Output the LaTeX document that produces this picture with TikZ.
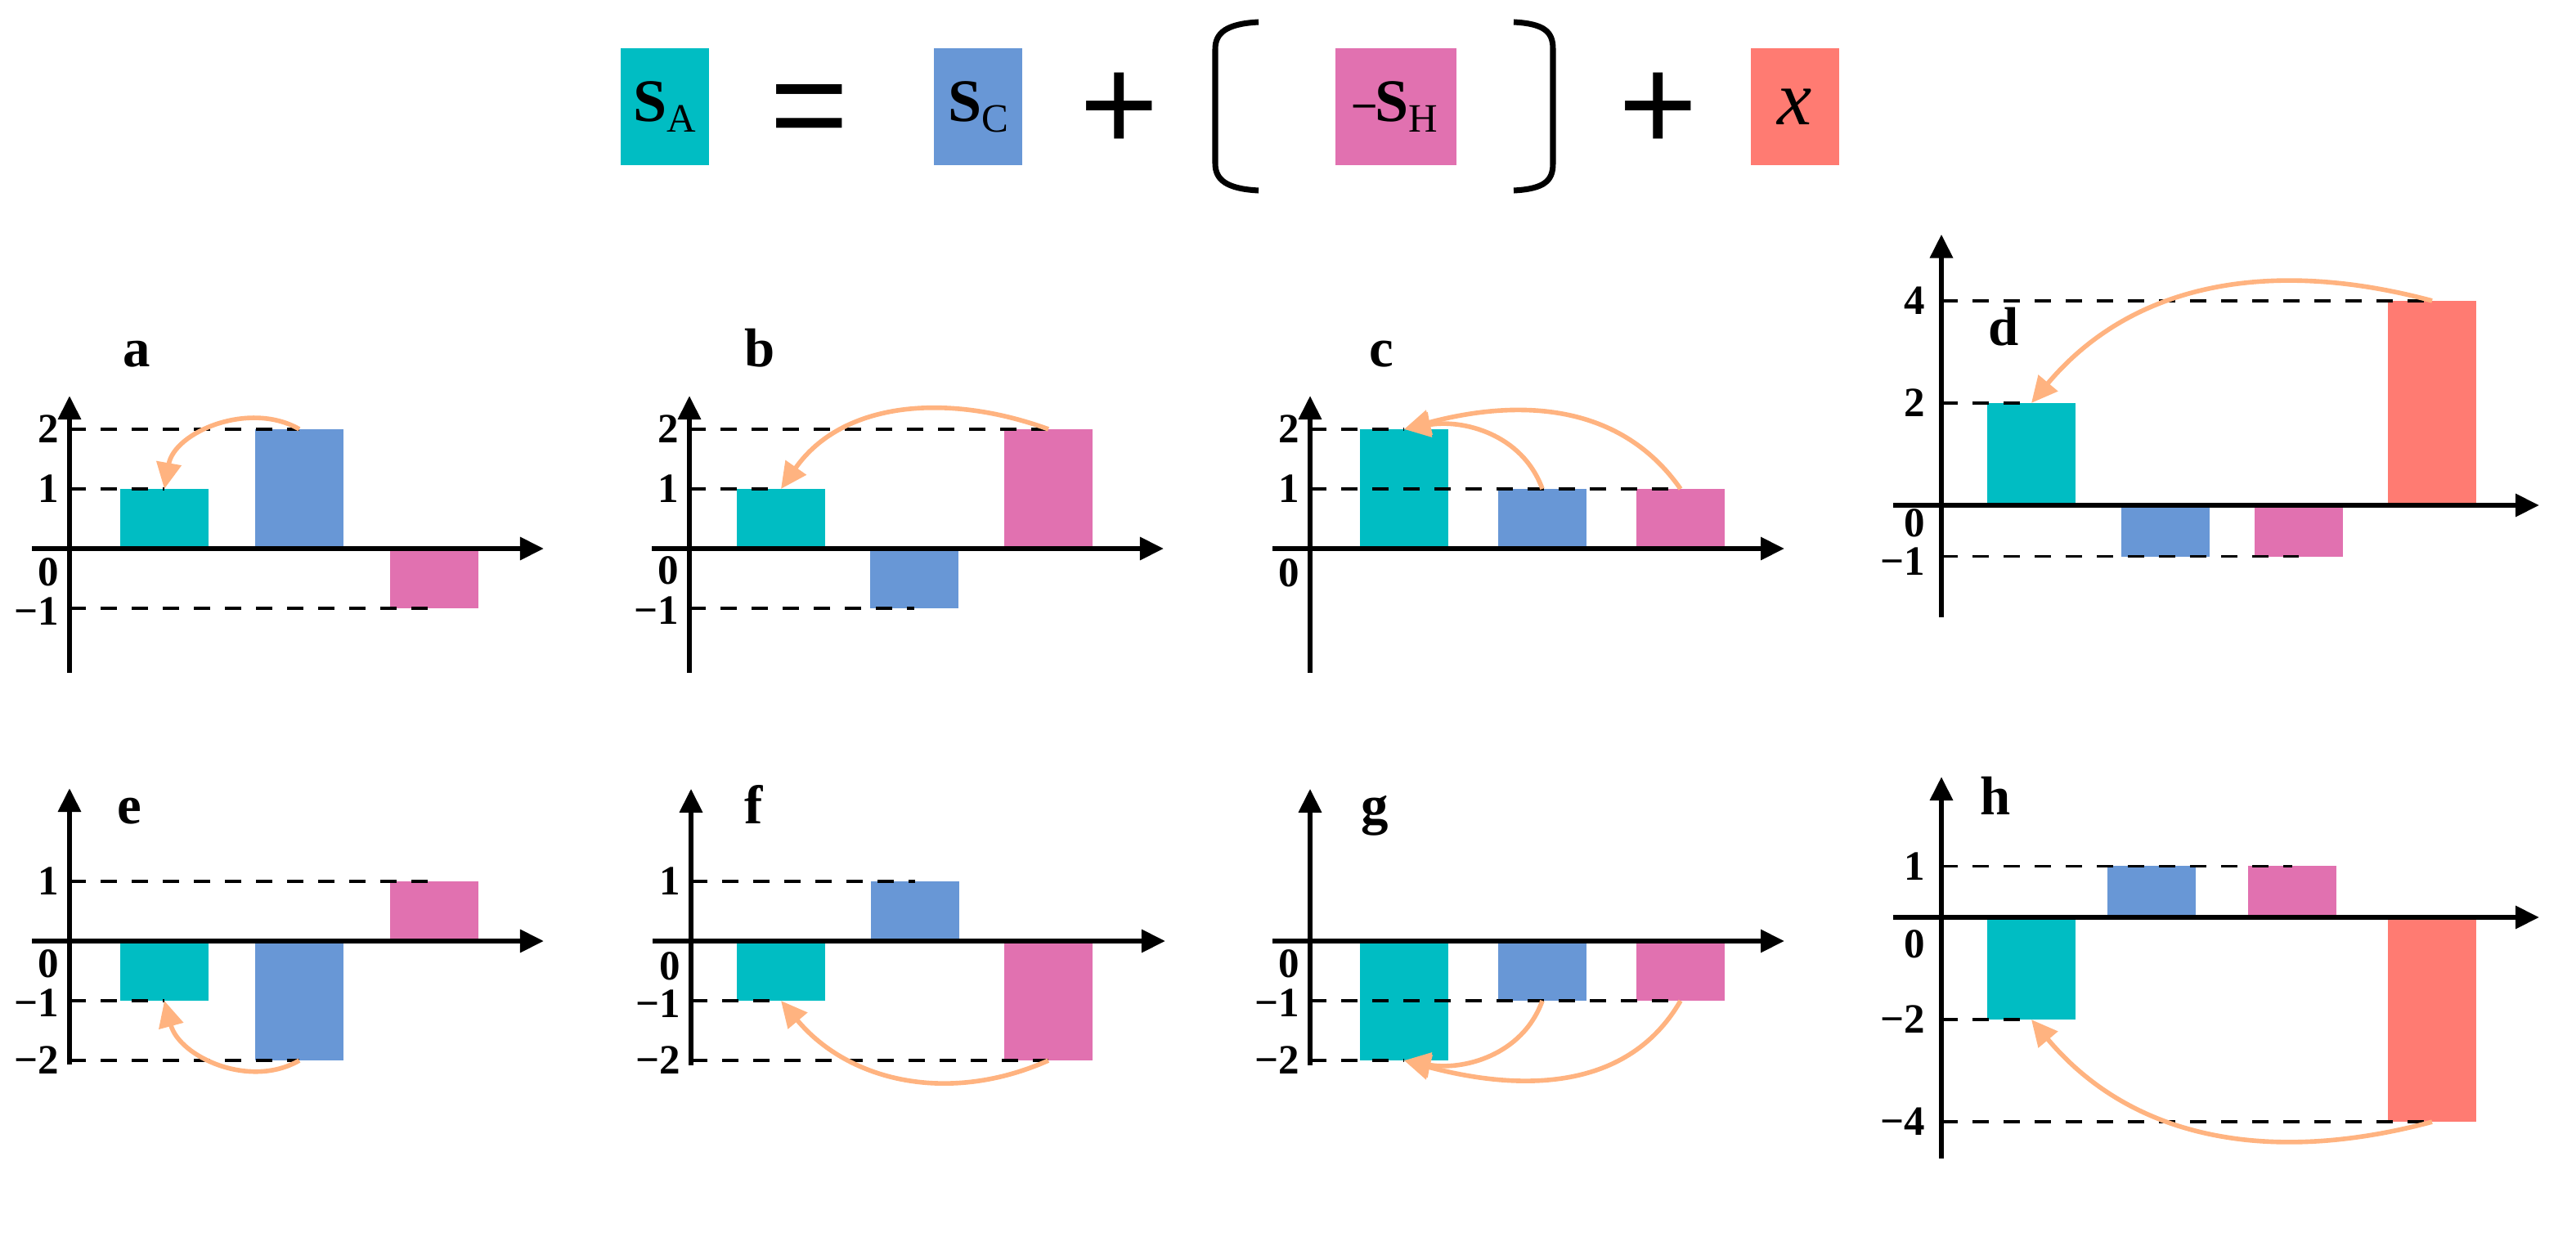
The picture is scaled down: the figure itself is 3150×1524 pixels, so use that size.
\documentclass[tikz,border=0pt]{standalone}
\usepackage{fontspec}
\setmainfont{Liberation Serif}
\newfontfamily\opfont{Liberation Sans}
\usetikzlibrary{arrows.meta}
\definecolor{tealA}{RGB}{0,189,195}
\definecolor{blueC}{RGB}{104,151,214}
\definecolor{pinkH}{RGB}{225,113,176}
\definecolor{redX}{RGB}{255,123,114}
\definecolor{peach}{RGB}{255,179,128}
\newcommand{\entsym}[2]{{\bfseries\fontsize{21}{21}\selectfont #1}\raisebox{-3.7pt}{\fontsize{14}{14}\selectfont #2}}
\tikzset{
    term/.style={inner sep=0pt, minimum width=1.07cm, minimum height=1.43cm},
    op/.style={anchor=base, inner sep=0pt, font=\opfont\fontsize{47}{47}\selectfont},
    brack/.style={line width=2pt},
    axisline/.style={line width=1.8pt, -{Triangle[length=0.29cm,width=0.27cm]}},
    guide/.style={line width=1.1pt, dash pattern=on 0.2cm off 0.18cm},
    flow/.style={draw=peach, line width=1.6pt, -{Triangle[length=0.32cm,width=0.3cm]}},
    bar/.style={inner sep=0pt, outer sep=0pt, minimum width=1.07cm},
    barA/.style={bar, fill=tealA},
    barC/.style={bar, fill=blueC},
    barH/.style={bar, fill=pinkH},
    barX/.style={bar, fill=redX},
    ticklbl/.style={anchor=east, inner sep=0pt, font=\fontsize{14.5}{14.5}\selectfont\bfseries},
    plabel/.style={anchor=base, inner sep=0pt, font=\fontsize{19}{19}\selectfont\bfseries}
}

\begin{document}
\begin{tikzpicture}[x=0.01cm, y=-0.01cm]
  \useasboundingbox (0,0) rectangle (3150,1524);

  % balance equation
  \node[term, fill=tealA] (SA) at (813,130.5) {\entsym{S}{A}};
  \node[op] (eq) at (990,184.5) {=};
  \node[term, fill=blueC] (SC) at (1196,130.5) {\entsym{S}{C}};
  \node[op] (plus1) at (1369,184.5) {+};
  \node[term, fill=pinkH, minimum width=1.48cm] (SH) at (1707,130.5)
    {\raisebox{1.7pt}{\fontsize{15}{15}\selectfont\bfseries –}\entsym{S}{H}};
  \node[op] (plus2) at (2028,184.5) {+};
  \node[term, fill=redX] (SX) at (2195,130.5) {\fontsize{27}{27}\selectfont\itshape x};
  \draw[brack] (1539,27) .. controls (1500,29) and (1486,40) .. (1486,60) -- (1486,200)
    .. controls (1486,220) and (1500,231) .. (1539,233);
  \draw[brack] (1851,27) .. controls (1890,29) and (1899,40) .. (1899,60) -- (1899,200)
    .. controls (1899,220) and (1890,231) .. (1851,233);

  % a
  \begin{scope}[shift={(85,671)}, y=0.73cm]
    \coordinate (aO) at (0,0);
    \node[barA, minimum height=0.73cm, anchor=south] (aA) at (116,0) {};
    \node[barC, minimum height=1.46cm, anchor=south] (aC) at (281,0) {};
    \node[barH, minimum height=0.73cm, anchor=north] (aH) at (446,0) {};
    \draw[axisline] (-46,0) -- (580,0);
    \draw[axisline] (0,-2.08) -- (0,2.56);
    \node[ticklbl] (a2) at (-12,2) {2};
    \node[ticklbl] (a1) at (-12,1) {1};
    \node[ticklbl, anchor=north east] (a0) at (-12,-0.15) {0};
    \node[ticklbl] (am1) at (-12,-1.05) {−1};
    \draw[guide] (aO |- aC.north) -- (aC.north);
    \draw[guide] (aO |- aA.north) -- (aA.north);
    \draw[guide] (aO |- aH.south) -- (aH.south);
    \node[plabel] (aL) at (82,3.05) {a};
    \draw[flow] (aC.north) to[out=150, in=80] (aA.north);
  \end{scope}

  % b
  \begin{scope}[shift={(843,671)}, y=0.73cm]
    \coordinate (bO) at (0,0);
    \node[barA, minimum height=0.73cm, anchor=south] (bA) at (112,0) {};
    \node[barC, minimum height=0.73cm, anchor=north] (bC) at (275,0) {};
    \node[barH, minimum height=1.46cm, anchor=south] (bH) at (439,0) {};
    \draw[axisline] (-46,0) -- (580,0);
    \draw[axisline] (0,-2.08) -- (0,2.56);
    \node[ticklbl] (b2) at (-12,2) {2};
    \node[ticklbl] (b1) at (-12,1) {1};
    \node[ticklbl, anchor=north east] (b0) at (-12,-0.12) {0};
    \node[ticklbl] (bm1) at (-12,-1.03) {−1};
    \draw[guide] (bO |- bH.north) -- (bH.north);
    \draw[guide] (bO |- bA.north) -- (bA.north);
    \draw[guide] (bO |- bC.south) -- (bC.south);
    \node[plabel] (bL) at (86,3.05) {b};
    \draw[flow] (bH.north) to[out=160, in=55] (bA.north);
  \end{scope}

  % c
  \begin{scope}[shift={(1602,671)}, y=0.73cm]
    \coordinate (cO) at (0,0);
    \node[barA, minimum height=1.46cm, anchor=south] (cA) at (115,0) {};
    \node[barC, minimum height=0.73cm, anchor=south] (cC) at (284,0) {};
    \node[barH, minimum height=0.73cm, anchor=south] (cH) at (453,0) {};
    \draw[axisline] (-46,0) -- (580,0);
    \draw[axisline] (0,-2.08) -- (0,2.56);
    \node[ticklbl] (c2) at (-12,2) {2};
    \node[ticklbl] (c1) at (-12,1) {1};
    \node[ticklbl, anchor=north east] (c0) at (-12,-0.16) {0};
    \draw[guide] (cO |- cA.north) -- (cA.north);
    \draw[guide] (cO |- cH.north) -- (cH.north);
    \node[plabel] (cL) at (87,3.05) {c};
    \draw[flow] (cC.north) to[out=110, in=10] (cA.north);
    \draw[flow] (cH.north) to[out=125, in=15] (cA.north);
  \end{scope}

  % d
  \begin{scope}[shift={(2374,618)}, y=0.625cm]
    \coordinate (dO) at (0,0);
    \node[barA, minimum height=1.25cm, anchor=south] (dA) at (110,0) {};
    \node[barC, minimum height=0.625cm, anchor=north] (dC) at (274,0) {};
    \node[barH, minimum height=0.625cm, anchor=north] (dH) at (437,0) {};
    \node[barX, minimum height=2.5cm, anchor=south] (dX) at (600,0) {};
    \draw[axisline] (-59,0) -- (731,0);
    \draw[axisline] (0,-2.19) -- (0,5.3);
    \node[ticklbl] (d4) at (-19,4) {4};
    \node[ticklbl] (d2) at (-19,2) {2};
    \node[ticklbl, anchor=north east] (d0) at (-19,-0.06) {0};
    \node[ticklbl] (dm1) at (-19,-1.1) {−1};
    \draw[guide] (dO |- dX.north) -- (dX.north);
    \draw[guide] (dO |- dA.north) -- (dA.north);
    \draw[guide] (dO |- dH.south) -- (dH.south);
    \node[plabel] (dL) at (76,3.12) {d};
    \draw[flow] (dX.north) to[out=165, in=50] (dA.north);
  \end{scope}

  % e
  \begin{scope}[shift={(85,1151)}, y=0.73cm]
    \coordinate (eO) at (0,0);
    \node[barA, minimum height=0.73cm, anchor=north] (eA) at (116,0) {};
    \node[barC, minimum height=1.46cm, anchor=north] (eC) at (281,0) {};
    \node[barH, minimum height=0.73cm, anchor=south] (eH) at (446,0) {};
    \draw[axisline] (-46,0) -- (580,0);
    \draw[axisline] (0,-2.07) -- (0,2.56);
    \node[ticklbl] (e1) at (-12,1) {1};
    \node[ticklbl, anchor=north east] (e0) at (-12,-0.14) {0};
    \node[ticklbl] (em1) at (-12,-1.03) {−1};
    \node[ticklbl] (em2) at (-12,-2) {−2};
    \draw[guide] (eO |- eH.north) -- (eH.north);
    \draw[guide] (eO |- eA.south) -- (eA.south);
    \draw[guide] (eO |- eC.south) -- (eC.south);
    \node[plabel] (eL) at (73,1.96) {e};
    \draw[flow] (eC.south) to[out=210, in=-75] (eA.south);
  \end{scope}

  % f
  \begin{scope}[shift={(845,1151)}, y=0.73cm]
    \coordinate (fO) at (0,0);
    \node[barA, minimum height=0.73cm, anchor=north] (fA) at (110,0) {};
    \node[barC, minimum height=0.73cm, anchor=south] (fC) at (274,0) {};
    \node[barH, minimum height=1.46cm, anchor=north] (fH) at (437,0) {};
    \draw[axisline] (-47,0) -- (580,0);
    \draw[axisline] (0,-2.08) -- (0,2.55);
    \node[ticklbl] (f1) at (-12,1) {1};
    \node[ticklbl, anchor=north east] (f0) at (-12,-0.18) {0};
    \node[ticklbl] (fm1) at (-12,-1.05) {−1};
    \node[ticklbl] (fm2) at (-12,-2) {−2};
    \draw[guide] (fO |- fC.north) -- (fC.north);
    \draw[guide] (fO |- fA.south) -- (fA.south);
    \draw[guide] (fO |- fH.south) -- (fH.south);
    \node[plabel] (fL) at (77,1.96) {f};
    \draw[flow] (fH.south) to[out=204, in=-50] (fA.south);
  \end{scope}

  % g
  \begin{scope}[shift={(1602,1151)}, y=0.73cm]
    \coordinate (gO) at (0,0);
    \node[barA, minimum height=1.46cm, anchor=north] (gA) at (115,0) {};
    \node[barC, minimum height=0.73cm, anchor=north] (gC) at (284,0) {};
    \node[barH, minimum height=0.73cm, anchor=north] (gH) at (453,0) {};
    \draw[axisline] (-46,0) -- (580,0);
    \draw[axisline] (0,-2.08) -- (0,2.55);
    \node[ticklbl, anchor=north east] (g0) at (-12,-0.14) {0};
    \node[ticklbl] (gm1) at (-12,-1.03) {−1};
    \node[ticklbl] (gm2) at (-12,-2) {−2};
    \draw[guide] (gO |- gH.south) -- (gH.south);
    \draw[guide] (gO |- gA.south) -- (gA.south);
    \node[plabel] (gL) at (79,1.96) {g};
    \draw[flow] (gC.south) to[out=250, in=-10] (gA.south);
    \draw[flow] (gH.south) to[out=240, in=-15] (gA.south);
  \end{scope}

  % h
  \begin{scope}[shift={(2374,1122)}, y=0.625cm]
    \coordinate (hO) at (0,0);
    \node[barA, minimum height=1.25cm, anchor=north] (hA) at (110,0) {};
    \node[barC, minimum height=0.625cm, anchor=south] (hC) at (257,0) {};
    \node[barH, minimum height=0.625cm, anchor=south] (hH) at (429,0) {};
    \node[barX, minimum height=2.5cm, anchor=north] (hX) at (600,0) {};
    \draw[axisline] (-59,0) -- (731,0);
    \draw[axisline] (0,-4.72) -- (0,2.75);
    \node[ticklbl] (h1) at (-19,1) {1};
    \node[ticklbl, anchor=north east] (h0) at (-19,-0.24) {0};
    \node[ticklbl] (hm2) at (-19,-2) {−2};
    \node[ticklbl] (hm4) at (-19,-4) {−4};
    \draw[guide] (hO |- hH.north) -- (hH.north);
    \draw[guide] (hO |- hA.south) -- (hA.south);
    \draw[guide] (hO |- hX.south) -- (hX.south);
    \node[plabel] (hL) at (66,2.0) {h};
    \draw[flow] (hX.south) to[out=195, in=-50] (hA.south);
  \end{scope}
\end{tikzpicture}
\end{document}
